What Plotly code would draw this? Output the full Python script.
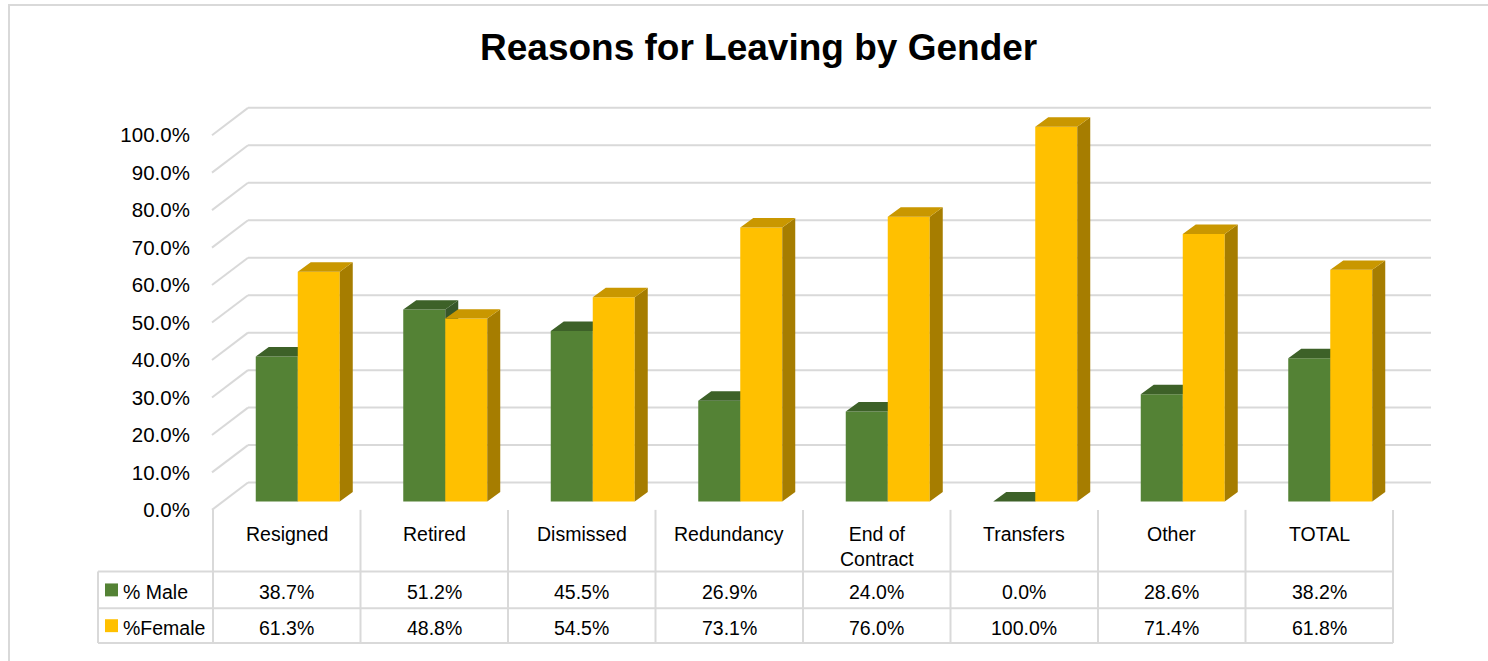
import plotly.graph_objects as go

# ---- data -------------------------------------------------------------
categories = ["Resigned", "Retired", "Dismissed", "Redundancy",
              "End of<br>Contract", "Transfers", "Other", "TOTAL"]
male = [38.7, 51.2, 45.5, 26.9, 24.0, 0.0, 28.6, 38.2]
female = [61.3, 48.8, 54.5, 73.1, 76.0, 100.0, 71.4, 61.8]
series_names = ["% Male", "%Female"]
y_ticks = [0, 10, 20, 30, 40, 50, 60, 70, 80, 90, 100]

# ---- styling / geometry ----------------------------------------------
W, H = 1488, 661
GREEN, GREEN_TOP, GREEN_SIDE = "#548235", "#3d6128", "#37572a"
GOLD, GOLD_TOP, GOLD_SIDE = "#ffc000", "#c99700", "#a67d00"
GRID = "#d9d9d9"
FONT = "Liberation Sans, Arial, sans-serif"

COL_W = 147.5          # px per category column
COL0 = 213.0           # px, left edge of first column
Y0 = 513.0             # px, baseline of the front plane
PX_PER_PCT = 3.77      # px per percentage point


def ux(px):             # pixel -> x axis units
    return (px - COL0) / COL_W - 0.5


def dux(dpx):
    return dpx / COL_W


def dvy(dpx):           # upward pixel offset -> y axis units
    return dpx / PX_PER_PCT


def paper_x(px):
    return px / W


def paper_y(py):
    return 1 - py / H


# 3-D projection offsets
bar_shift_x, bar_shift_y = dux(11), dvy(8.5)   # bar plane behind front
depth_x, depth_y = dux(13), dvy(9.5)           # bar depth
wall_x, wall_y = dux(36), dvy(27.5)            # back wall
bar_w = dux(42)

n = len(categories)
idx = list(range(n))

x_range = [ux(200), ux(1445)]
y_range = [-2, 112]
y_dom = [paper_y(Y0 + 2 * PX_PER_PCT), paper_y(Y0 - 112 * PX_PER_PCT)]
x_dom = [paper_x(200), paper_x(1445)]

fig = go.Figure()


def faces(values, offset):
    """Side and top faces of the 3-D columns, as closed polygons."""
    side_x, side_y, top_x, top_y = [], [], [], []
    for i, v in zip(idx, values):
        xl = i + offset
        xr = xl + bar_w
        b = bar_shift_y
        t = b + v
        side_x += [xr, xr + depth_x, xr + depth_x, xr, xr, None]
        side_y += [b, b + depth_y, t + depth_y, t, b, None]
        top_x += [xl, xl + depth_x, xr + depth_x, xr, xl, None]
        top_y += [t, t + depth_y, t + depth_y, t, t, None]
    return side_x, side_y, top_x, top_y


specs = [
    (male, bar_shift_x - bar_w, GREEN, GREEN_TOP, GREEN_SIDE, "x", "y"),
    (female, bar_shift_x, GOLD, GOLD_TOP, GOLD_SIDE, "x2", "y2"),
]
for values, offset, c_front, c_top, c_side, xa, ya in specs:
    fig.add_trace(go.Bar(
        x=idx, y=values, base=[bar_shift_y] * n, offset=offset, width=bar_w,
        marker=dict(color=c_front, line=dict(width=0)),
        xaxis=xa, yaxis=ya, showlegend=False, hoverinfo="skip"))
    sx, sy, tx, ty = faces(values, offset)
    fig.add_trace(go.Scatter(
        x=sx, y=sy, mode="lines", fill="toself", fillcolor=c_side,
        line=dict(width=0, color=c_side), xaxis=xa, yaxis=ya,
        showlegend=False, hoverinfo="skip"))
    fig.add_trace(go.Scatter(
        x=tx, y=ty, mode="lines", fill="toself", fillcolor=c_top,
        line=dict(width=0, color=c_top), xaxis=xa, yaxis=ya,
        showlegend=False, hoverinfo="skip"))

shapes = []
# back wall gridlines with their diagonal on the side wall
x_front = ux(212)
x_back_end = ux(1431)
for v in y_ticks:
    shapes.append(dict(type="line", xref="x", yref="y", layer="below",
                       x0=x_front, y0=v, x1=x_front + wall_x, y1=v + wall_y,
                       line=dict(color=GRID, width=2)))
    shapes.append(dict(type="line", xref="x", yref="y", layer="below",
                       x0=x_front + wall_x, y0=v + wall_y,
                       x1=x_back_end, y1=v + wall_y,
                       line=dict(color=GRID, width=2)))

# data table grid
TABLE_TOP, ROW1, ROW2, ROW3 = 513, 575, 612, 647
LEG_LEFT = 98
col_edges = [COL0 + i * COL_W for i in range(n + 1)]
for yy in (ROW1, ROW2, ROW3):
    shapes.append(dict(type="line", xref="paper", yref="paper",
                       x0=paper_x(LEG_LEFT), x1=paper_x(col_edges[-1]),
                       y0=paper_y(yy), y1=paper_y(yy),
                       line=dict(color=GRID, width=2)))
shapes.append(dict(type="line", xref="paper", yref="paper",
                   x0=paper_x(LEG_LEFT), x1=paper_x(LEG_LEFT),
                   y0=paper_y(ROW1), y1=paper_y(ROW3),
                   line=dict(color=GRID, width=2)))
for ex in col_edges:
    shapes.append(dict(type="line", xref="paper", yref="paper",
                       x0=paper_x(ex), x1=paper_x(ex),
                       y0=paper_y(TABLE_TOP), y1=paper_y(ROW3),
                       line=dict(color=GRID, width=2)))

# legend keys inside the table
for (yy, col) in ((593.5, GREEN), (629.5, GOLD)):
    shapes.append(dict(type="rect", xref="paper", yref="paper",
                       x0=paper_x(105), x1=paper_x(118),
                       y0=paper_y(yy - 6.5), y1=paper_y(yy + 6.5),
                       fillcolor=col, line=dict(width=0)))

# chart border
shapes.append(dict(type="rect", xref="paper", yref="paper",
                   x0=paper_x(9), x1=paper_x(W + 10),
                   y0=paper_y(5), y1=paper_y(H + 10),
                   line=dict(color=GRID, width=2)))

annotations = []
annotations.append(dict(text="<b>Reasons for Leaving by Gender</b>",
                        xref="paper", yref="paper",
                        x=paper_x(758), y=paper_y(48),
                        xanchor="center", yanchor="middle", showarrow=False,
                        font=dict(family=FONT, size=37, color="#000000")))

TXT = 19.5
for i, cat in enumerate(categories):
    cx = paper_x(COL0 + (i + 0.5) * COL_W)
    annotations.append(dict(text=cat, xref="paper", yref="paper",
                            x=cx, y=paper_y(524), xanchor="center",
                            yanchor="top", showarrow=False,
                            font=dict(family=FONT, size=TXT, color="#000000")))
    for vals, yy in ((male, 595.5), (female, 632)):
        annotations.append(dict(text=f"{vals[i]:.1f}%", xref="paper",
                                yref="paper", x=cx, y=paper_y(yy),
                                xanchor="center", yanchor="middle",
                                showarrow=False,
                                font=dict(family=FONT, size=TXT,
                                          color="#000000")))

for name, yy in zip(series_names, (595.5, 632)):
    annotations.append(dict(text=name, xref="paper", yref="paper",
                            x=paper_x(121), y=paper_y(yy), xanchor="left",
                            yanchor="middle", showarrow=False,
                            font=dict(family=FONT, size=TXT, color="#000000")))

fig.update_layout(
    width=W, height=H,
    margin=dict(l=0, r=0, t=0, b=0),
    paper_bgcolor="#ffffff", plot_bgcolor="rgba(0,0,0,0)",
    barmode="overlay",
    shapes=shapes, annotations=annotations,
    xaxis=dict(domain=x_dom, range=x_range, visible=False, fixedrange=True),
    yaxis=dict(domain=y_dom, range=y_range, anchor="x",
               tickvals=y_ticks, ticktext=[f"{v:.1f}%" for v in y_ticks],
               showgrid=False, zeroline=False, showline=False,
               ticks="outside", ticklen=5, tickcolor="rgba(0,0,0,0)",
               tickfont=dict(family=FONT, size=20.5, color="#000000"),
               fixedrange=True),
    xaxis2=dict(domain=x_dom, range=x_range, overlaying="x", anchor="y2",
                visible=False, fixedrange=True),
    yaxis2=dict(domain=y_dom, range=y_range, overlaying="y", anchor="x2",
                visible=False, fixedrange=True),
)

fig.write_html("out.html")
